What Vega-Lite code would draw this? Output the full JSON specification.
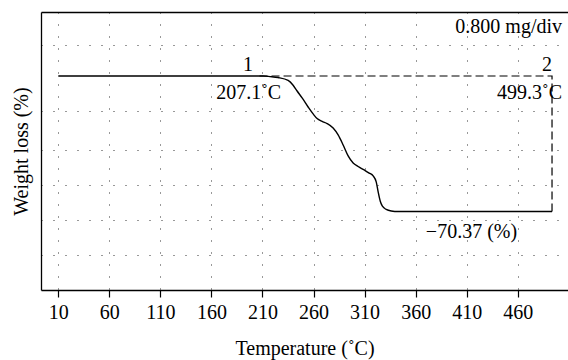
{
  "$schema": "https://vega.github.io/schema/vega-lite/v6.json",
  "width": 527,
  "height": 278,
  "autosize": {"type": "none"},
  "padding": {"left": 41, "top": 12, "right": 0, "bottom": 70},
  "background": "white",
  "config": {
    "view": {"stroke": null},
    "font": "Liberation Serif",
    "axis": {
      "labelFont": "Liberation Serif",
      "titleFont": "Liberation Serif",
      "labelFontSize": 20,
      "titleFontSize": 20,
      "labelColor": "#000",
      "titleColor": "#000",
      "titleFontWeight": "normal",
      "domainColor": "#000",
      "domainWidth": 1.3,
      "tickColor": "#000",
      "tickWidth": 1.2,
      "gridColor": "#000",
      "gridDash": [1, 11],
      "gridWidth": 1,
      "gridOpacity": 0.8
    },
    "text": {"font": "Liberation Serif", "fontSize": 20, "color": "#000"}
  },
  "datasets": {
    "tga": [
      {"temp": 10, "w": 100},
      {"temp": 150, "w": 100},
      {"temp": 210.5, "w": 100},
      {"temp": 217.4, "w": 99.7},
      {"temp": 225.3, "w": 99.2},
      {"temp": 235.1, "w": 97.7},
      {"temp": 240.0, "w": 95.2},
      {"temp": 243.9, "w": 92.2},
      {"temp": 248.8, "w": 88.6},
      {"temp": 254.7, "w": 83.9},
      {"temp": 259.6, "w": 80.3},
      {"temp": 263.5, "w": 77.9},
      {"temp": 268.4, "w": 76.4},
      {"temp": 273.3, "w": 75.3},
      {"temp": 279.2, "w": 73.0},
      {"temp": 284.1, "w": 69.4},
      {"temp": 289.0, "w": 64.2},
      {"temp": 293.9, "w": 58.5},
      {"temp": 298.8, "w": 54.8},
      {"temp": 303.7, "w": 53.0},
      {"temp": 309.6, "w": 51.2},
      {"temp": 314.5, "w": 49.6},
      {"temp": 318.4, "w": 48.1},
      {"temp": 321.4, "w": 45.0},
      {"temp": 323.3, "w": 39.8},
      {"temp": 325.3, "w": 35.1},
      {"temp": 327.3, "w": 32.5},
      {"temp": 331.2, "w": 30.7},
      {"temp": 336.1, "w": 29.9},
      {"temp": 343.0, "w": 29.63},
      {"temp": 493.6, "w": 29.63}
    ],
    "guide": [
      {"i": 0, "temp": 207.1, "w": 100},
      {"i": 1, "temp": 493.6, "w": 100},
      {"i": 2, "temp": 493.6, "w": 29.63}
    ]
  },
  "layer": [
    {
      "data": {"name": "tga"},
      "mark": {"type": "line", "color": "#000", "strokeWidth": 1.4, "interpolate": "monotone"},
      "encoding": {
        "x": {
          "field": "temp",
          "type": "quantitative",
          "scale": {"domain": [-6.95, 509.25], "nice": false, "zero": false},
          "axis": {
            "values": [10, 60, 110, 160, 210, 260, 310, 360, 410, 460],
            "tickSize": 7,
            "labelPadding": 5,
            "grid": true,
            "labelFlush": false,
            "labelOverlap": false,
            "title": "Temperature (˚C)",
            "titlePadding": 16
          }
        },
        "y": {
          "field": "w",
          "type": "quantitative",
          "scale": {"domain": [-11.14, 133.24], "nice": false, "zero": false},
          "axis": {
            "values": [7.04, 25.21, 43.39, 61.72, 81.82, 116.26],
            "labels": false,
            "ticks": false,
            "domain": true,
            "grid": true,
            "title": "Weight loss (%)",
            "titlePadding": 10
          }
        }
      }
    },
    {
      "data": {"name": "guide"},
      "mark": {"type": "line", "color": "#000", "strokeWidth": 1.2, "strokeDash": [8, 4]},
      "encoding": {
        "x": {
          "field": "temp",
          "type": "quantitative",
          "axis": {"orient": "top", "labels": false, "ticks": false, "grid": false, "title": null, "domain": true}
        },
        "y": {"field": "w", "type": "quantitative", "axis": null},
        "order": {"field": "i"}
      }
    },
    {
      "data": {"values": [{"label": "1", "temp": 195.8, "w": 102.6}, {"label": "207.1˚C", "temp": 196.5, "w": 88.3}]},
      "mark": {"type": "text", "align": "center", "baseline": "alphabetic"},
      "encoding": {
        "x": {"field": "temp", "type": "quantitative", "axis": null},
        "y": {"field": "w", "type": "quantitative", "axis": null},
        "text": {"field": "label"}
      }
    },
    {
      "data": {"values": [{"label": "2", "temp": 488.7, "w": 102.6}]},
      "mark": {"type": "text", "align": "center", "baseline": "alphabetic"},
      "encoding": {
        "x": {"field": "temp", "type": "quantitative", "axis": null},
        "y": {"field": "w", "type": "quantitative", "axis": null},
        "text": {"field": "label"}
      }
    },
    {
      "data": {"values": [{"label": "499.3˚C", "temp": 503.4, "w": 88.3}, {"label": "0.800 mg/div", "temp": 503.4, "w": 122.3}]},
      "mark": {"type": "text", "align": "right", "baseline": "alphabetic"},
      "encoding": {
        "x": {"field": "temp", "type": "quantitative", "axis": null},
        "y": {"field": "w", "type": "quantitative", "axis": null},
        "text": {"field": "label"}
      }
    },
    {
      "data": {"values": [{"label": "−70.37 (%)", "temp": 414.7, "w": 15.7}]},
      "mark": {"type": "text", "align": "center", "baseline": "alphabetic"},
      "encoding": {
        "x": {"field": "temp", "type": "quantitative", "axis": null},
        "y": {"field": "w", "type": "quantitative", "axis": null},
        "text": {"field": "label"}
      }
    }
  ],
  "resolve": {"axis": {"x": "independent", "y": "independent"}}
}
